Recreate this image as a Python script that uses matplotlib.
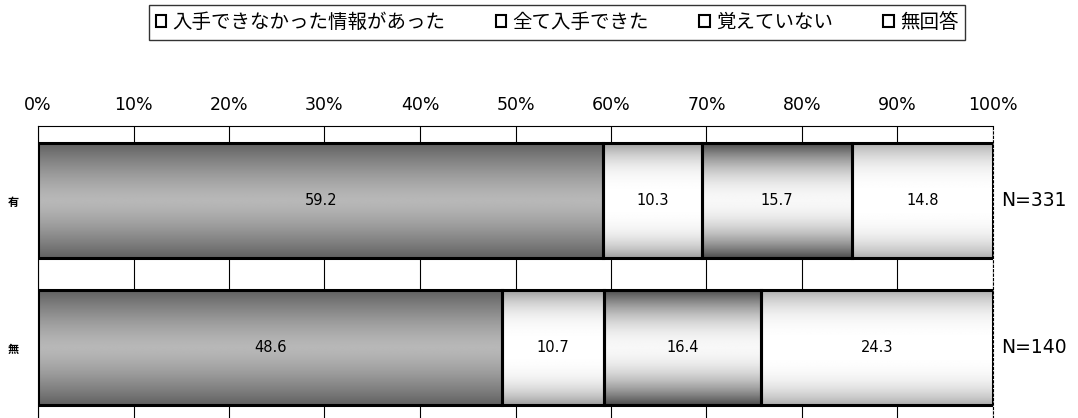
import numpy as np
import matplotlib.pyplot as plt
from matplotlib.patches import Patch

plt.rcParams['font.family'] = ['Noto Sans CJK JP', 'DejaVu Sans']

# -----------------------------------------------------------------------
# Data
# -----------------------------------------------------------------------
groups = ['有', '無']
group_n = ['N=331', 'N=140']
series = ['入手できなかった情報があった', '全て入手できた', '覚えていない', '無回答']
values = [
    [59.2, 10.3, 15.7, 14.8],   # 有
    [48.6, 10.7, 16.4, 24.3],   # 無
]
xticks = [0, 10, 20, 30, 40, 50, 60, 70, 80, 90, 100]

# grey profiles (edge tone, centre tone) imitating the scanned texture
edge_tone = [0.38, 0.62, 0.30, 0.68]
mid_tone = [0.72, 1.00, 0.97, 1.00]
sharp = [1.4, 3.0, 2.0, 3.0]

# -----------------------------------------------------------------------
# Plot
# -----------------------------------------------------------------------
fig = plt.figure(figsize=(10.78, 4.18), dpi=100)
ax = fig.add_axes([38 / 1078, 0.0, (993 - 38) / 1078, (418 - 126) / 418])

bar_h = 115 / 147
prof_y = np.linspace(-1, 1, 200)

for gi, row in enumerate(values):
    left = 0.0
    for si, v in enumerate(row):
        prof = mid_tone[si] - (mid_tone[si] - edge_tone[si]) * np.abs(prof_y) ** sharp[si]
        img = np.tile(prof[:, None], (1, 2))
        y0, y1 = gi - bar_h / 2, gi + bar_h / 2
        ax.imshow(img, cmap='gray', vmin=0, vmax=1, aspect='auto',
                  extent=(left, left + v, y1, y0), zorder=2,
                  interpolation='bilinear')
        ax.barh(gi, v, left=left, height=bar_h, facecolor='none',
                edgecolor='black', linewidth=2.2, zorder=3)
        ax.text(left + v / 2, gi, f'{v}', ha='center', va='center',
                fontsize=10.5, zorder=4, family='DejaVu Sans')
        left += v
    ax.text(100.8, gi, group_n[gi], ha='left', va='center', fontsize=13.5,
            family='DejaVu Sans')

ax.set_xlim(0, 100)
ax.set_ylim(1 + 70.5 / 147, -74.5 / 147)
ax.set_xticks(xticks)
ax.set_xticklabels([f'{t}%' for t in xticks], fontsize=12.5, family='DejaVu Sans')
ax.xaxis.tick_top()
ax.tick_params(axis='x', length=0, pad=9)
ax.set_yticks([0, 1])
ax.set_yticklabels(groups, fontsize=8, fontweight='bold')
ax.tick_params(axis='y', length=0, pad=14)
ax.grid(True, axis='x', color='black', linewidth=0.8, zorder=0)
ax.set_axisbelow(True)
ax.spines['bottom'].set_visible(False)
ax.spines['top'].set_linewidth(0.8)
ax.spines['left'].set_linewidth(0.8)
ax.spines['right'].set_linestyle((0, (2, 2)))
ax.spines['right'].set_linewidth(0.8)

handles = [Patch(facecolor='white', edgecolor='black', linewidth=1.5) for _ in series]
fig.legend(handles, series, loc='upper center', bbox_to_anchor=(557 / 1078, 0.997),
           ncol=4, frameon=True, fancybox=False, edgecolor='black',
           fontsize=14, handlelength=0.55, handleheight=0.55, handletextpad=0.3,
           columnspacing=2.6, borderpad=0.35, borderaxespad=0.2)

fig.savefig('out.png', dpi=100)
